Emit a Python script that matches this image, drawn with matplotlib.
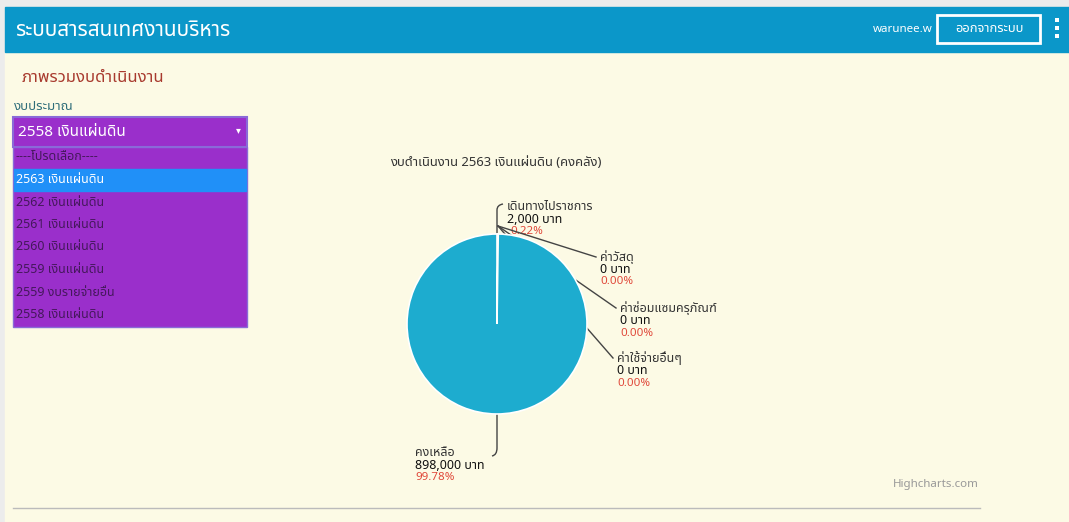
import numpy as np
import matplotlib
matplotlib.use("Agg")
import matplotlib.pyplot as plt
from matplotlib.patches import Rectangle
from matplotlib.path import Path
from matplotlib.patches import PathPatch

plt.rcParams['font.family'] = ['Noto Sans Thai', 'Noto Sans Thai UI', 'Loma', 'Garuda',
                               'Tlwg Typo', 'Noto Sans', 'DejaVu Sans']

# --- data ---
APP_TITLE = "ระบบสารสนเทศงานบริหาร"
USER = "warunee.w"
LOGOUT = "ออกจากระบบ"
PAGE_TITLE = "ภาพรวมงบดำเนินงาน"
SELECT_LABEL = "งบประมาณ"
SELECTED = "2558 เงินแผ่นดิน"
OPTIONS = ["----โปรดเลือก----", "2563 เงินแผ่นดิน", "2562 เงินแผ่นดิน", "2561 เงินแผ่นดิน",
           "2560 เงินแผ่นดิน", "2559 เงินแผ่นดิน", "2559 งบรายจ่ายอื่น", "2558 เงินแผ่นดิน"]
HIGHLIGHT = 1
CHART_TITLE = "งบดำเนินงาน 2563 เงินแผ่นดิน (คงคลัง)"
labels = ["เดินทางไปราชการ", "ค่าวัสดุ", "ค่าซ่อมแซมครุภัณฑ์", "ค่าใช้จ่ายอื่นๆ", "คงเหลือ"]
amounts = [2000, 0, 0, 0, 898000]
CREDIT = "Highcharts.com"

total = sum(amounts)
pcts = [a / total * 100 for a in amounts]

W, H = 1069, 522
fig = plt.figure(figsize=(W / 100, H / 100), dpi=100)
fig.patch.set_facecolor("#ECECEC")
ax = fig.add_axes([0, 0, 1, 1])
ax.axis("off")

# page
ax.add_patch(Rectangle((5, 7), W - 5, H - 7, color="#FCFAE5", zorder=0))
ax.add_patch(Rectangle((5, 7), W - 5, 45, color="#0B97C9", zorder=1))
ax.text(15, 30, APP_TITLE, color="white", fontsize=15, fontweight="bold", va="center")
ax.text(873, 29, USER, color="white", fontsize=8.3, va="center")
ax.add_patch(Rectangle((937, 15), 103, 28, fill=False, ec="white", lw=2, zorder=2))
ax.text(989, 29, LOGOUT, color="white", fontsize=9.3, va="center", ha="center")
for yy in (20, 28, 36):
    ax.add_patch(Rectangle((1055, yy - 1.75), 3.5, 3.5, color="white", lw=0, zorder=2))

ax.text(22, 78, PAGE_TITLE, color="#A83A2E", fontsize=12, va="center")
ax.text(14, 107, SELECT_LABEL, color="#2F6E7A", fontsize=9.5, va="center")

# select box + dropdown
ax.add_patch(Rectangle((13, 117), 234, 30, fc="#9A2FCB", ec="#8A6AD8", lw=1.5, zorder=2))
ax.text(18, 132, SELECTED, color="white", fontsize=11, va="center", zorder=3)
ax.text(238, 131, "▾", color="white", fontsize=7, va="center", ha="center", zorder=3)
ax.add_patch(Rectangle((13, 147), 234, 180, fc="#9A2FCB", ec="#8A6AD8", lw=1, zorder=2))
row_h = 22.5
for i, opt in enumerate(OPTIONS):
    yc = 157 + i * row_h
    col = "#45185C"
    if i == HIGHLIGHT:
        ax.add_patch(Rectangle((14, yc - 11), 232, 22, color="#2090F8", zorder=3))
        col = "white"
    ax.text(16, yc, opt, color=col, fontsize=9, va="center", zorder=4)

# chart
ax.text(390, 162, CHART_TITLE, color="#333333", fontsize=9.4, va="center")
cx, cy, r = 497, 324, 90
wedges, _ = ax.pie(amounts, colors=["#1DACCF"] * len(amounts), startangle=270,
                   counterclock=True, center=(cx, cy), radius=r,
                   wedgeprops=dict(ec="white", lw=1.2))
for w in wedges:
    w.set_zorder(5)

label_pos = [(507, 207), (600, 257), (620, 308), (617, 358), (415, 453)]
for i, (lab, amt, p) in enumerate(zip(labels, amounts, pcts)):
    lx, ly = label_pos[i]
    ax.text(lx, ly, lab, color="#333333", fontsize=9, va="center", zorder=6)
    ax.text(lx, ly + 12.5, f"{amt:,} บาท", color="#111111", fontsize=9,
            fontweight="bold", va="center", zorder=6)
    ax.text(lx + (3 if i == 0 else 0), ly + 25, f"{p:.2f}%", color="#E0483A",
            fontsize=8.3, va="center", zorder=6 if i else 3)

# connectors (drawn under the pie)
link = "#444444"
ax.add_patch(PathPatch(Path([(cx, cy - r), (cx, 210), (cx, 205), (503, 204)],
                            [Path.MOVETO, Path.LINETO, Path.CURVE3, Path.CURVE3]),
                       fc="none", ec=link, lw=1, zorder=4))
for lx, ly in label_pos[1:4]:
    ax.plot([cx + 1, lx - 4], [cy - r - 8, ly], color=link, lw=1, zorder=4)
ax.add_patch(PathPatch(Path([(cx, cy + r), (cx, 448), (cx, 455), (492, 456)],
                            [Path.MOVETO, Path.LINETO, Path.CURVE3, Path.CURVE3]),
                       fc="none", ec=link, lw=1, zorder=4))

ax.text(893, 485, CREDIT, color="#999999", fontsize=8.3, va="center")
ax.plot([13, 980], [508, 508], color="#BBBBBB", lw=1, zorder=2)

ax.set_xlim(0, W)
ax.set_ylim(H, 0)
ax.set_aspect("auto")
fig.savefig("out.png", dpi=100, facecolor=fig.get_facecolor())
